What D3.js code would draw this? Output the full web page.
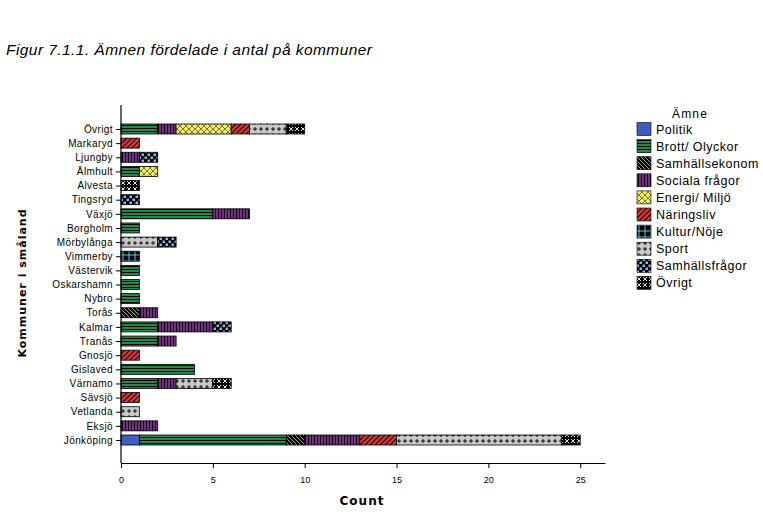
<!DOCTYPE html>
<html><head><meta charset="utf-8">
<script src="https://cdn.jsdelivr.net/npm/d3@7"></script>
<style>body{margin:0;background:#fff}svg{display:block}</style>
</head><body>
<svg id="c" width="763" height="517"></svg>
<script>
const categories = ["Övrigt","Markaryd","Ljungby","Älmhult","Alvesta","Tingsryd","Växjö","Borgholm","Mörbylånga","Vimmerby","Västervik","Oskarshamn","Nybro","Torås","Kalmar","Tranås","Gnosjö","Gislaved","Värnamo","Sävsjö","Vetlanda","Eksjö","Jönköping"];
const topics = ["Politik","Brott/ Olyckor","Samhällsekonom","Sociala frågor","Energi/ Miljö","Näringsliv","Kultur/Nöje","Sport","Samhällsfrågor","Övrigt"];
// values per category, in topic order
const politik        = [0,0,0,0,0,0,0,0,0,0,0,0,0,0,0,0,0,0,0,0,0,0,1];
const brott          = [2,0,0,1,0,0,5,1,0,0,1,1,1,0,2,2,0,4,2,0,0,0,8];
const samhallsekonom = [0,0,0,0,0,0,0,0,0,0,0,0,0,1,0,0,0,0,0,0,0,0,1];
const sociala        = [1,0,1,0,0,0,2,0,0,0,0,0,0,1,3,1,0,0,1,0,0,2,3];
const energi         = [3,0,0,1,0,0,0,0,0,0,0,0,0,0,0,0,0,0,0,0,0,0,0];
const naringsliv     = [1,1,0,0,0,0,0,0,0,0,0,0,0,0,0,0,1,0,0,1,0,0,2];
const kultur         = [0,0,0,0,0,0,0,0,0,1,0,0,0,0,0,0,0,0,0,0,0,0,0];
const sport          = [2,0,0,0,0,0,0,0,2,0,0,0,0,0,0,0,0,0,2,0,1,0,9];
const samhallsfragor = [0,0,1,0,0,1,0,0,1,0,0,0,0,0,1,0,0,0,0,0,0,0,0];
const ovrigt         = [1,0,0,0,1,0,0,0,0,0,0,0,0,0,0,0,0,0,1,0,0,0,1];
const series = [politik,brott,samhallsekonom,sociala,energi,naringsliv,kultur,sport,samhallsfragor,ovrigt];
const xTicks = [0,5,10,15,20,25];

const svg = d3.select("#c");
const defs = svg.append("defs");
function pat(id,w,h,bg,draw){
  const p = defs.append("pattern").attr("id",id).attr("patternUnits","userSpaceOnUse").attr("width",w).attr("height",h);
  p.append("rect").attr("width",w).attr("height",h).attr("fill",bg);
  draw(p); return "url(#"+id+")";
}
const fills = [
  pat("p0",4,4,"#3f5cbf",p=>{}),
  pat("p1",6,3,"#1f8a4c",p=>p.append("rect").attr("y",2).attr("width",6).attr("height",1).attr("fill","#000")),
  pat("p2",4,4,"#000",p=>p.append("path").attr("d","M0,0L4,4M-1,3L1,5M3,-1L5,1").attr("stroke","#d8d890").attr("stroke-width",0.8)),
  pat("p3",3,6,"#7b2a8c",p=>p.append("rect").attr("x",2).attr("width",1).attr("height",6).attr("fill","#000")),
  pat("p4",6,6,"#f2ee5a",p=>p.append("path").attr("d","M0,0L6,6M6,0L0,6").attr("stroke","#555").attr("stroke-width",0.8).attr("fill","none")),
  pat("p5",5,5,"#e03535",p=>p.append("path").attr("d","M0,5L5,0M-1,1L1,-1M4,6L6,4").attr("stroke","#000").attr("stroke-width",1.2)),
  pat("p6",6,6,"#000",p=>p.append("path").attr("d","M3,0V6M0,3H6").attr("stroke","#4fd0d8").attr("stroke-width",1)),
  pat("p7",6,6,"#c8c8c8",p=>p.append("path").attr("d","M3,1V5M1,3H5").attr("stroke","#000").attr("stroke-width",0.9)),
  pat("p8",6,6,"#000",p=>{p.append("rect").attr("x",0.5).attr("y",0.5).attr("width",2.5).attr("height",2.5).attr("fill","#8db8e6");p.append("rect").attr("x",3.5).attr("y",3.5).attr("width",2.5).attr("height",2.5).attr("fill","#8db8e6");}),
  pat("p9",6,6,"#000",p=>p.append("path").attr("d","M1,1L5,5M5,1L1,5").attr("stroke","#fff").attr("stroke-width",0.9))
];

const x = d3.scaleLinear().domain([0,26.35]).range([121,605]);
const y = d3.scalePoint().domain(categories).range([129,440]);
const bh = 10;

// title
svg.append("text").attr("x",6).attr("y",55).attr("font-family","Liberation Sans, Arial, sans-serif")
  .attr("font-size",15.5).attr("font-style","italic").attr("textLength",366).attr("lengthAdjust","spacing")
  .text("Figur 7.1.1. Ämnen fördelade i antal på kommuner");

// bars
categories.forEach((c,i)=>{
  let acc = 0;
  series.forEach((s,k)=>{
    const v = s[i]; if(!v) return;
    svg.append("rect").attr("x",x(acc)).attr("y",y(c)-bh/2).attr("width",x(acc+v)-x(acc)).attr("height",bh)
      .attr("fill",fills[k]).attr("stroke","#000").attr("stroke-width",0.8);
    acc += v;
  });
});

// axes
const xa = svg.append("g").attr("transform","translate(0,463)")
  .call(d3.axisBottom(x).tickValues(xTicks).tickSize(5).tickSizeOuter(0).tickFormat(d3.format("d")));
xa.select(".domain").attr("stroke-width",1.2);
xa.selectAll("text").attr("font-family","Liberation Sans, Arial, sans-serif").attr("font-size",9).attr("dy","1.3em");
const ya = svg.append("g").attr("transform","translate(121,0)")
  .call(d3.axisLeft(y).tickSize(5).tickSizeOuter(0).tickPadding(3));
ya.select(".domain").attr("d","M0,105V463").attr("stroke-width",1.2);
ya.selectAll("text").attr("font-family","Liberation Sans, Arial, sans-serif").attr("font-size",10).attr("letter-spacing","0.4px").attr("fill","#000");

svg.append("text").attr("x",362).attr("y",505).attr("text-anchor","middle")
  .attr("font-family","DejaVu Sans, sans-serif").attr("font-weight","bold").attr("font-size",12).attr("letter-spacing","1px").text("Count");
svg.append("text").attr("transform","translate(26,283) rotate(-90)").attr("text-anchor","middle")
  .attr("font-family","DejaVu Sans, sans-serif").attr("font-weight","bold").attr("font-size",11).attr("letter-spacing","1px").text("Kommuner i småland");

// legend
const lg = svg.append("g");
lg.append("text").attr("x",690).attr("y",118).attr("text-anchor","middle").attr("font-family","Liberation Sans, Arial, sans-serif")
  .attr("font-size",12).attr("letter-spacing","1.2px").text("Ämne");
topics.forEach((t,k)=>{
  const yy = 129 + k*17.1;
  lg.append("rect").attr("x",637).attr("y",yy-6.5).attr("width",14).attr("height",13).attr("fill",fills[k]).attr("stroke","#000").attr("stroke-width",0.6);
  lg.append("text").attr("x",656).attr("y",yy+4.5).attr("font-family","Liberation Sans, Arial, sans-serif").attr("font-size",12.5).attr("letter-spacing","0.5px").text(t);
});
</script>
</body></html>
